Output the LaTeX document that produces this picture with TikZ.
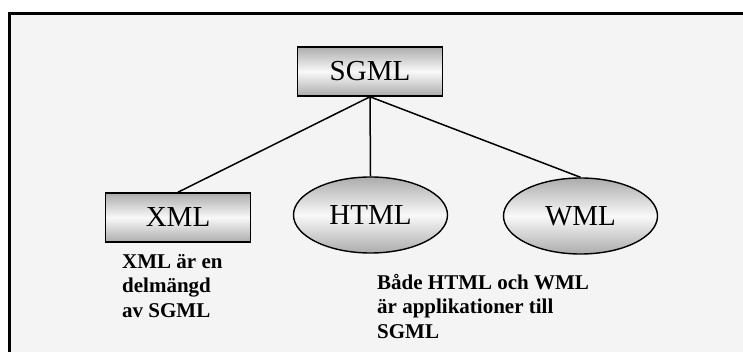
\documentclass[tikz,border=0pt]{standalone}
\usepackage{fontspec}
\setmainfont{Liberation Serif}
\usepackage{tikz}
\usetikzlibrary{shapes.geometric,positioning}

\definecolor{panelgray}{RGB}{244,244,244}

\begin{document}
\begin{tikzpicture}[
        x=1pt, y=-1pt,
        lang/.style={rectangle, draw=black, line width=1.6pt, inner sep=0pt,
                     minimum width=145pt, minimum height=49pt,
                     top color=gray!65, bottom color=gray!65, middle color=gray!5,
                     font=\fontsize{29}{32}\selectfont},
        app/.style={ellipse, draw=black, line width=1.4pt, inner sep=0pt,
                    minimum width=154pt, minimum height=76pt,
                    top color=gray!65, bottom color=gray!65, middle color=gray!5,
                    font=\fontsize{29}{32}\selectfont},
        note/.style={anchor=base west, align=left, inner sep=0pt,
                     font=\fontsize{21}{24.5}\selectfont\bfseries},
        link/.style={line width=1.5pt}
    ]
        \useasboundingbox (0,0) rectangle (743,352);
        \fill[panelgray] (9.5,13.5) rectangle (743,352);
        \draw[line width=3pt] (743,13.5) -- (9.5,13.5) -- (9.5,352);

        \node[lang] (sgml) at (370,71.5) {SGML};
        \node[lang] (xml) at (178,217.5) {XML};
        \node[app] (html) at (370.5,215) {HTML};
        \node[app] (wml) at (580.5,216) {WML};

        \draw[link] (sgml.south) -- (xml.north);
        \draw[link] (sgml.south) -- (html.north);
        \draw[link] (sgml.south) -- (wml.north);

        % base of a multi-line node is its last line
        \node[note] (xmlnote) at (122,317) {XML är en\\delmängd\\av SGML};
        \node[note] (appnote) at (377,338) {Både HTML och WML\\är applikationer till\\SGML};
\end{tikzpicture}
\end{document}
